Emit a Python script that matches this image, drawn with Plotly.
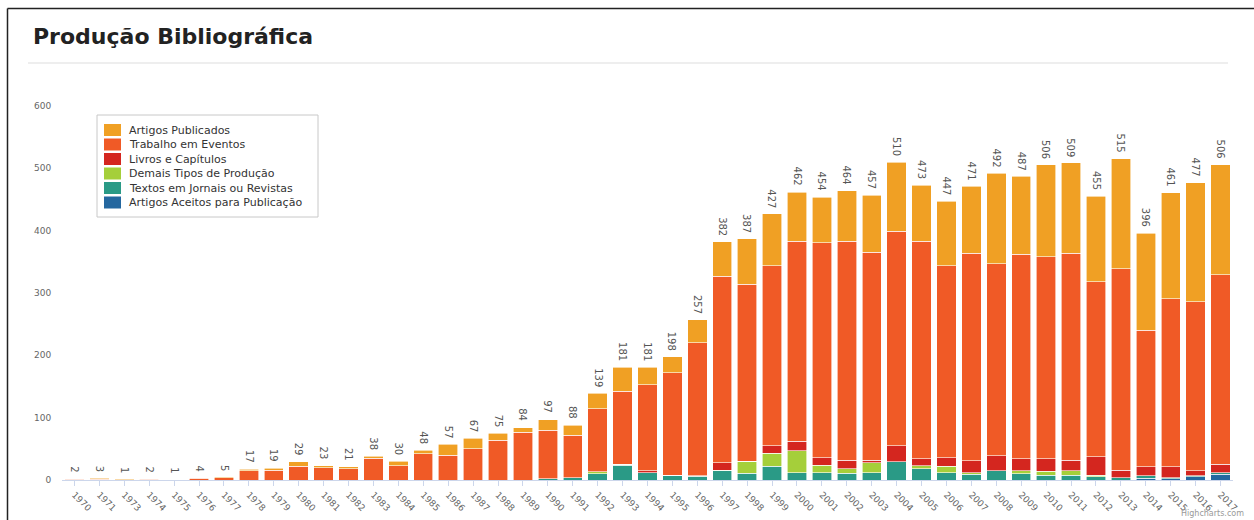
import plotly.graph_objects as go

years = ["1970", "1971", "1973", "1974", "1975", "1976", "1977", "1978", "1979", "1980",
         "1981", "1982", "1983", "1984", "1985", "1986", "1987", "1988", "1989", "1990",
         "1991", "1992", "1993", "1994", "1995", "1996", "1997", "1998", "1999", "2000",
         "2001", "2002", "2003", "2004", "2005", "2006", "2007", "2008", "2009", "2010",
         "2011", "2012", "2013", "2014", "2015", "2016", "2017"]

artigos_publicados = [1, 2, 1, 1, 0, 1, 1, 2, 3, 7,
                      3, 3, 3, 7, 6, 17, 17, 11, 7, 17,
                      16, 25, 39, 28, 26, 37, 55, 73, 83, 79,
                      73, 81, 92, 111, 90, 103, 107, 145, 125, 148,
                      145, 137, 176, 156, 170, 191, 177]
trabalho_eventos = [1, 1, 0, 1, 0, 3, 4, 15, 16, 22,
                    20, 18, 35, 23, 42, 40, 50, 64, 77, 78,
                    68, 101, 117, 138, 164, 213, 299, 284, 289, 321,
                    345, 351, 333, 344, 349, 308, 333, 308, 328, 324,
                    332, 281, 323, 219, 270, 271, 304]
livros_capitulos = [0, 0, 0, 0, 0, 0, 0, 0, 0, 0,
                    0, 0, 0, 0, 0, 0, 0, 0, 0, 0,
                    0, 0, 0, 3, 0, 0, 12, 0, 12, 15,
                    12, 14, 4, 26, 11, 14, 19, 24, 19, 20,
                    17, 29, 12, 14, 17, 8, 13]
demais_tipos = [0, 0, 0, 0, 0, 0, 0, 0, 0, 0,
                0, 0, 0, 0, 0, 0, 0, 0, 0, 0,
                0, 3, 1, 0, 0, 1, 1, 19, 21, 35,
                12, 7, 16, 0, 5, 10, 3, 0, 5, 6,
                7, 3, 0, 0, 0, 0, 0]
textos_jornais = [0, 0, 0, 0, 1, 0, 0, 0, 0, 0,
                  0, 0, 0, 0, 0, 0, 0, 0, 0, 2,
                  4, 10, 24, 12, 8, 6, 15, 11, 22, 12,
                  12, 11, 12, 29, 18, 12, 9, 15, 10, 8,
                  8, 5, 4, 4, 2, 2, 3]
artigos_aceitos = [0, 0, 0, 0, 0, 0, 0, 0, 0, 0,
                   0, 0, 0, 0, 0, 0, 0, 0, 0, 0,
                   0, 0, 0, 0, 0, 0, 0, 0, 0, 0,
                   0, 0, 0, 0, 0, 0, 0, 0, 0, 0,
                   0, 0, 0, 3, 2, 5, 9]

# bottom -> top stacking order
series = [
    ("Artigos Aceitos para Publicação", artigos_aceitos, "#24679f"),
    ("Textos em Jornais ou Revistas", textos_jornais, "#2a9a86"),
    ("Demais Tipos de Produção", demais_tipos, "#a5cf3a"),
    ("Livros e Capítulos", livros_capitulos, "#d4261f"),
    ("Trabalho em Eventos", trabalho_eventos, "#f05a26"),
    ("Artigos Publicados", artigos_publicados, "#f0a024"),
]

FONT = "DejaVu Sans, Liberation Sans, Arial, sans-serif"

fig = go.Figure()
for name, vals, color in series:
    fig.add_trace(go.Bar(
        x=years, y=vals, name=name, showlegend=False,
        marker=dict(color=color, line=dict(color="white", width=0.6)),
    ))

totals = [sum(v) for v in zip(*[s[1] for s in series])]

# pixel -> paper helpers for decorations
L, R, T, B = 62, 21, 106, 40
W, H = 1254, 520
PW, PH = W - L - R, H - T - B


def px(xp):
    return (xp - L) / PW


def py(yp):
    return (H - B - yp) / PH


annotations = []
for i, tot in enumerate(totals):
    annotations.append(dict(
        x=i, y=tot, xref="x", yref="y", text=str(tot), showarrow=False,
        textangle=90, yanchor="bottom", xanchor="center", yshift=4,
        font=dict(family=FONT, size=10, color="#555555"),
    ))

annotations.append(dict(
    x=px(31), y=py(37), xref="paper", yref="paper", text="<b>Produção Bibliográfica</b>",
    showarrow=False, xanchor="left", yanchor="middle",
    font=dict(family=FONT, size=22, color="#222222"),
))
annotations.append(dict(
    x=px(1246), y=py(513), xref="paper", yref="paper", text="Highcharts.com",
    showarrow=False, xanchor="right", yanchor="middle",
    font=dict(family=FONT, size=8, color="#999999"),
))

shapes = [
    dict(type="line", xref="paper", yref="paper", x0=px(28), x1=px(1228), y0=py(63), y1=py(63),
         line=dict(color="#eeeeee", width=2)),
    dict(type="line", xref="paper", yref="paper", x0=px(7.5), x1=px(1254), y0=py(8.5), y1=py(8.5),
         line=dict(color="#222222", width=1.5)),
    dict(type="line", xref="paper", yref="paper", x0=px(7.5), x1=px(7.5), y0=py(8.5), y1=py(520),
         line=dict(color="#222222", width=1.5)),
    # legend box
    dict(type="rect", xref="paper", yref="paper", x0=px(97), x1=px(318), y0=py(115), y1=py(217),
         line=dict(color="#c8c8c8", width=1), fillcolor="white", layer="above"),
]

# legend entries (top -> bottom = reversed stacking order)
for k, (name, vals, color) in enumerate(reversed(series)):
    cy = 130 + k * 14.5
    shapes.append(dict(type="rect", xref="paper", yref="paper",
                       x0=px(104), x1=px(121), y0=py(cy - 6), y1=py(cy + 6),
                       line=dict(width=0), fillcolor=color, layer="above"))
    annotations.append(dict(
        x=px(127), y=py(cy), xref="paper", yref="paper", text=name, showarrow=False,
        xanchor="left", yanchor="middle",
        font=dict(family=FONT, size=11, color="#333333"),
    ))

fig.update_layout(
    width=W, height=H,
    margin=dict(l=L, r=R, t=T, b=B, autoexpand=False),
    barmode="stack",
    bargap=0.22,
    plot_bgcolor="white",
    paper_bgcolor="white",
    font=dict(family=FONT, size=10, color="#555555"),
    showlegend=False,
    xaxis=dict(
        type="category", tickangle=45, showgrid=False, automargin=False,
        range=[-0.5, len(years) - 0.5],
        showline=True, linecolor="#ccd6eb", linewidth=1,
        ticks="outside", ticklen=5, tickcolor="#ccd6eb",
        tickfont=dict(size=9, color="#666666"),
    ),
    yaxis=dict(
        range=[0, 600], tickvals=[0, 100, 200, 300, 400, 500, 600],
        showgrid=False, zeroline=False, showline=False, automargin=False,
        ticks="outside", ticklen=8, tickcolor="rgba(0,0,0,0)",
        tickfont=dict(size=9, color="#666666"),
    ),
    annotations=annotations,
    shapes=shapes,
)

fig.write_html("out.html")
